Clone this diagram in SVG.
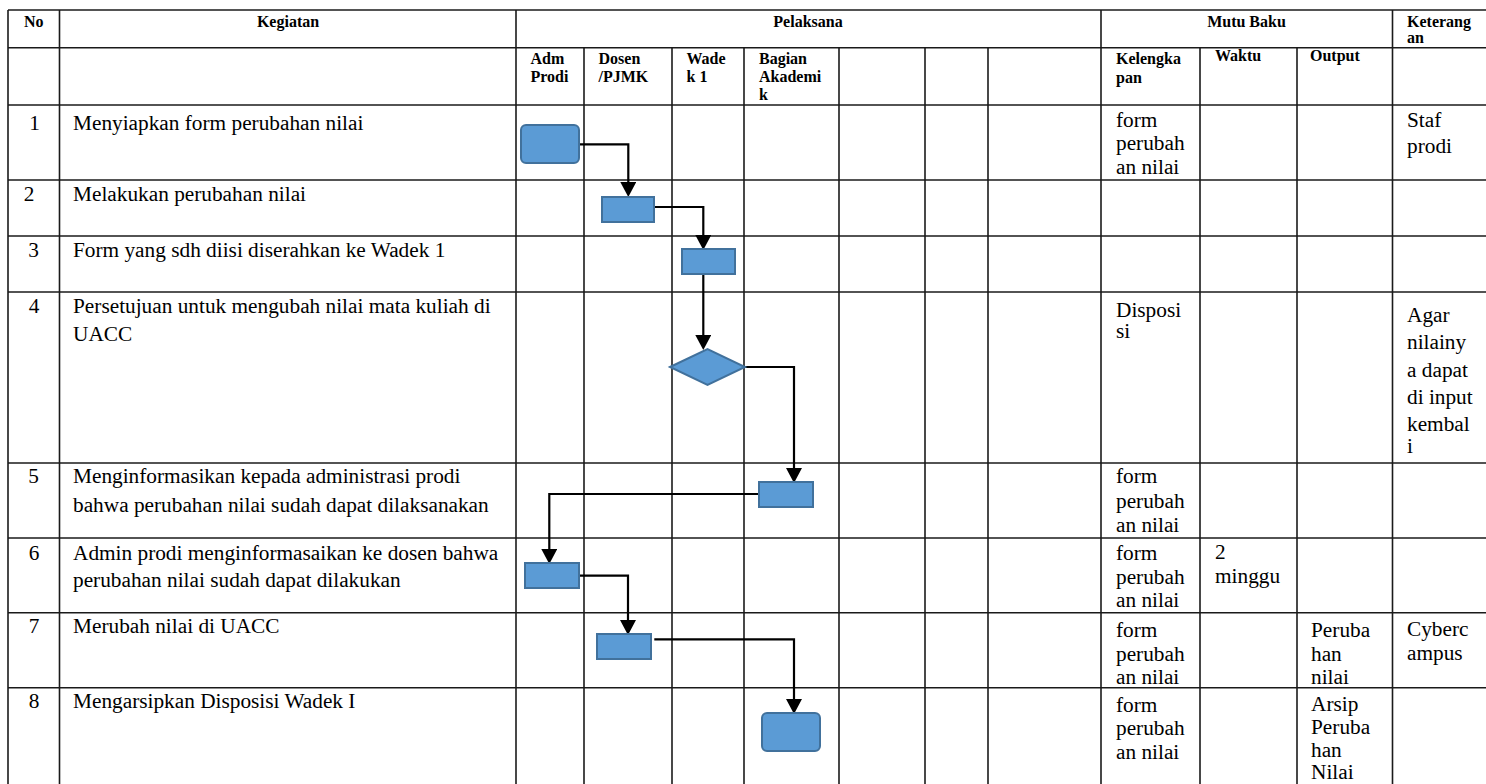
<svg xmlns="http://www.w3.org/2000/svg" width="1486" height="784" viewBox="0 0 1486 784">
<style>
.bg{fill:#ffffff}
.grid line{stroke:#1a1a1a;stroke-width:1.6}
.h{font-family:"Liberation Serif","Times New Roman",serif;font-weight:bold;font-size:16px;fill:#000}
.hc{text-anchor:middle}
.t{font-family:"Liberation Serif","Times New Roman",serif;font-size:21.3px;fill:#000}
.n{text-anchor:middle}
.box{fill:#5b9bd5;stroke:#41719c;stroke-width:2}
.conn path{fill:none;stroke:#000;stroke-width:2.2}
</style>
<defs>
<marker id="arr" markerUnits="userSpaceOnUse" markerWidth="15" markerHeight="16" viewBox="0 0 15 16" refX="11" refY="8" orient="auto">
<path d="M0,0 L15,8 L0,16 z" fill="#000"/>
</marker>
</defs>
<rect class="bg" x="0" y="0" width="1486" height="784"/>
<g id="table" class="grid">
<line x1="8" y1="10" x2="1486" y2="10"/>
<line x1="8" y1="47.7" x2="1486" y2="47.7"/>
<line x1="8" y1="105" x2="1486" y2="105"/>
<line x1="8" y1="180" x2="1486" y2="180"/>
<line x1="8" y1="236" x2="1486" y2="236"/>
<line x1="8" y1="292" x2="1486" y2="292"/>
<line x1="8" y1="463" x2="1486" y2="463"/>
<line x1="8" y1="538" x2="1486" y2="538"/>
<line x1="8" y1="612.7" x2="1486" y2="612.7"/>
<line x1="8" y1="687.7" x2="1486" y2="687.7"/>
<line x1="8" y1="10" x2="8" y2="784"/>
<line x1="59.5" y1="10" x2="59.5" y2="784"/>
<line x1="516" y1="10" x2="516" y2="784"/>
<line x1="1101" y1="10" x2="1101" y2="784"/>
<line x1="1392.5" y1="10" x2="1392.5" y2="784"/>
<line x1="584" y1="47.7" x2="584" y2="784"/>
<line x1="672" y1="47.7" x2="672" y2="784"/>
<line x1="744" y1="47.7" x2="744" y2="784"/>
<line x1="839" y1="47.7" x2="839" y2="784"/>
<line x1="925" y1="47.7" x2="925" y2="784"/>
<line x1="988" y1="47.7" x2="988" y2="784"/>
<line x1="1200" y1="47.7" x2="1200" y2="784"/>
<line x1="1297" y1="47.7" x2="1297" y2="784"/>
</g>
<g id="headers">
<text class="h hc" x="33.7" y="26.5">No</text>
<text class="h hc" x="288" y="26.5">Kegiatan</text>
<text class="h hc" x="808" y="26.5">Pelaksana</text>
<text class="h hc" x="1246.5" y="26.5">Mutu Baku</text>
<text class="h" x="1407" y="26.5">Keterang</text>
<text class="h" x="1407" y="42.5">an</text>
<text class="h" x="530.5" y="64.3">Adm</text>
<text class="h" x="530.5" y="81.7">Prodi</text>
<text class="h" x="598.5" y="64.3">Dosen</text>
<text class="h" x="598.5" y="81.7">/PJMK</text>
<text class="h" x="686.5" y="64.3">Wade</text>
<text class="h" x="686.5" y="81.7">k 1</text>
<text class="h" x="759" y="64.3">Bagian</text>
<text class="h" x="759" y="81.7">Akademi</text>
<text class="h" x="759" y="99.5">k</text>
<text class="h" x="1116" y="64">Kelengka</text>
<text class="h" x="1116" y="83">pan</text>
<text class="h" x="1215" y="60.5">Waktu</text>
<text class="h" x="1310" y="60.5">Output</text>
</g>
<g id="rows">
<text class="t n" x="34.5" y="130">1</text>
<text class="t n" x="29" y="200.7">2</text>
<text class="t n" x="33.5" y="257.3">3</text>
<text class="t n" x="34" y="313.3">4</text>
<text class="t n" x="33.5" y="483.3">5</text>
<text class="t n" x="34" y="560">6</text>
<text class="t n" x="34" y="633.3">7</text>
<text class="t n" x="34" y="708.3">8</text>
<text class="t" x="73" y="130">Menyiapkan form perubahan nilai</text>
<text class="t" x="73" y="200.7">Melakukan perubahan nilai</text>
<text class="t" x="73" y="257.3">Form yang sdh diisi diserahkan ke Wadek 1</text>
<text class="t" x="73" y="313.3">Persetujuan untuk mengubah nilai mata kuliah di</text>
<text class="t" x="73" y="341">UACC</text>
<text class="t" x="73" y="483.3">Menginformasikan kepada administrasi prodi</text>
<text class="t" x="73" y="511.7">bahwa perubahan nilai sudah dapat dilaksanakan</text>
<text class="t" x="73" y="560">Admin prodi menginformasaikan ke dosen bahwa</text>
<text class="t" x="73" y="587.3">perubahan nilai sudah dapat dilakukan</text>
<text class="t" x="73" y="633.3">Merubah nilai di UACC</text>
<text class="t" x="73" y="708.3">Mengarsipkan Disposisi Wadek I</text>
<text class="t" x="1116" y="126.5">form</text>
<text class="t" x="1116" y="150">perubah</text>
<text class="t" x="1116" y="174">an nilai</text>
<text class="t" x="1116" y="316.5">Disposi</text>
<text class="t" x="1116" y="338">si</text>
<text class="t" x="1116" y="483.3">form</text>
<text class="t" x="1116" y="507.5">perubah</text>
<text class="t" x="1116" y="531.5">an nilai</text>
<text class="t" x="1116" y="560">form</text>
<text class="t" x="1116" y="583.5">perubah</text>
<text class="t" x="1116" y="607.3">an nilai</text>
<text class="t" x="1116" y="636.7">form</text>
<text class="t" x="1116" y="660.5">perubah</text>
<text class="t" x="1116" y="683.5">an nilai</text>
<text class="t" x="1116" y="711.7">form</text>
<text class="t" x="1116" y="735">perubah</text>
<text class="t" x="1116" y="758.5">an nilai</text>
<text class="t" x="1215" y="558.5">2</text>
<text class="t" x="1215" y="582.7">minggu</text>
<text class="t" x="1311" y="636.7">Peruba</text>
<text class="t" x="1311" y="660.5">han</text>
<text class="t" x="1311" y="683.5">nilai</text>
<text class="t" x="1311" y="710.5">Arsip</text>
<text class="t" x="1311" y="733.5">Peruba</text>
<text class="t" x="1311" y="756.5">han</text>
<text class="t" x="1311" y="779">Nilai</text>
<text class="t" x="1407" y="126.7">Staf</text>
<text class="t" x="1407" y="153">prodi</text>
<text class="t" x="1407" y="322">Agar</text>
<text class="t" x="1407" y="349">nilainy</text>
<text class="t" x="1407" y="376.5">a dapat</text>
<text class="t" x="1407" y="404">di input</text>
<text class="t" x="1407" y="431">kembal</text>
<text class="t" x="1407" y="453">i</text>
<text class="t" x="1407" y="636">Cyberc</text>
<text class="t" x="1407" y="659.5">ampus</text>
</g>
<g id="connectors" class="conn">
<path d="M579,144.3 H628.3 V193" marker-end="url(#arr)"/>
<path d="M654,207 H703.3 V246" marker-end="url(#arr)"/>
<path d="M703.3,274 V346" marker-end="url(#arr)"/>
<path d="M745,367 H794 V479" marker-end="url(#arr)"/>
<path d="M759,494 H549.3 V560" marker-end="url(#arr)"/>
<path d="M579,575.7 H628 V631" marker-end="url(#arr)"/>
<path d="M654.3,639.3 H794 V710" marker-end="url(#arr)"/>
</g>
<g id="node1"><rect class="box" x="521" y="125" width="58" height="38" rx="5"/></g>
<g id="node2"><rect class="box" x="602" y="197" width="52" height="25"/></g>
<g id="node3"><rect class="box" x="682" y="249" width="53" height="25"/></g>
<g id="node4"><polygon class="box" points="670,367 707.5,349 745,367 707.5,385"/></g>
<g id="node5"><rect class="box" x="759" y="482" width="54" height="25"/></g>
<g id="node6"><rect class="box" x="525" y="563" width="54" height="25"/></g>
<g id="node7"><rect class="box" x="597" y="634" width="54" height="25"/></g>
<g id="node8"><rect class="box" x="762" y="713" width="58" height="38" rx="5"/></g>
</svg>
